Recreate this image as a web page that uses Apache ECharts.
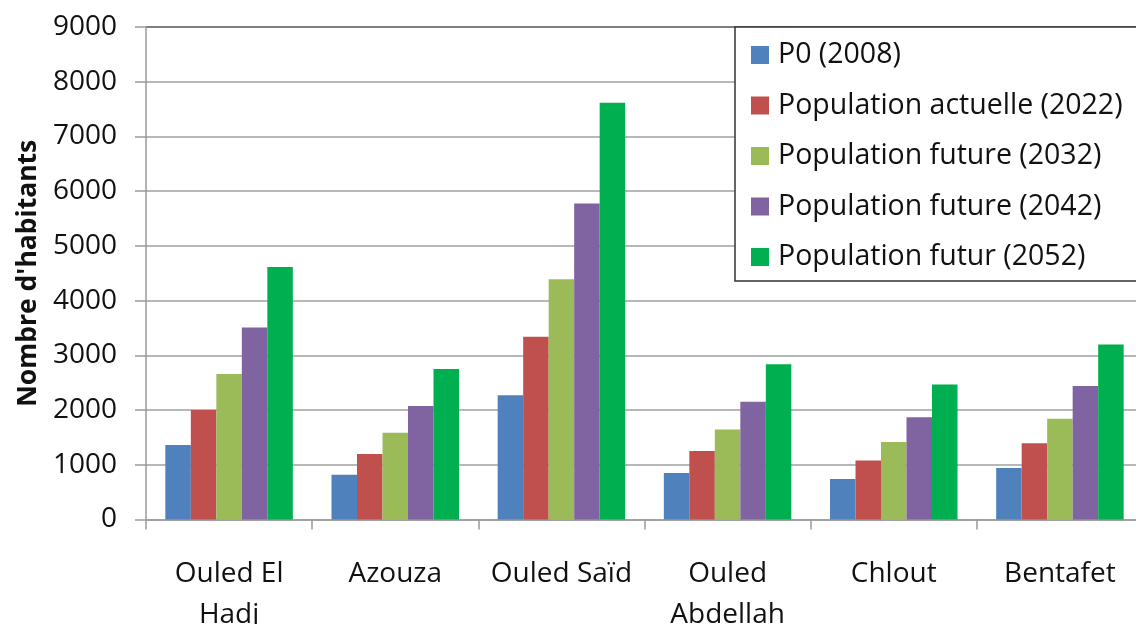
<!DOCTYPE html>
<html>
<head>
<meta charset="utf-8">
<script src="https://cdn.jsdelivr.net/npm/echarts@6/dist/echarts.min.js"></script>
<style>
  html, body { margin: 0; padding: 0; background: #fff; }
  #chart { width: 1136px; height: 624px; }
</style>
</head>
<body>
<div id="chart"></div>
<script>
// communes (retour à la ligne comme dans le graphique d'origine)
let communes = ['Ouled El\nHadj', 'Azouza', 'Ouled Saïd', 'Ouled\nAbdellah', 'Chlout', 'Bentafet']
let serieNames = ['P0 (2008)', 'Population actuelle (2022)', 'Population future (2032)', 'Population future (2042)', 'Population futur (2052)']
let p2008 = [1360, 820, 2270, 850, 740, 940]
let p2022 = [2000, 1195, 3340, 1250, 1080, 1395]
let p2032 = [2660, 1585, 4390, 1645, 1415, 1840]
let p2042 = [3510, 2075, 5775, 2150, 1870, 2440]
let p2052 = [4615, 2750, 7615, 2835, 2465, 3200]
let yTicks = [0, 1000, 2000, 3000, 4000, 5000, 6000, 7000, 8000, 9000]

let couleurs = ['#4F81BD', '#C0504D', '#9BBB59', '#8064A2', '#00B050']
let police = '"Open Sans", sans-serif'

let myChart = echarts.init(document.getElementById('chart'), null, { renderer: 'canvas' })

let valeurs = [p2008, p2022, p2032, p2042, p2052]
let series = valeurs.map((v, i) => ({
    name: serieNames[i],
    type: 'bar',
    data: v,
    barWidth: 25.5,
    barGap: '0%',
    itemStyle: { color: couleurs[i] },
}))

// lignes de grille grises, la ligne du haut plus foncée
let gridColors = yTicks.map((t, i) => (i === yTicks.length - 1 ? '#555' : '#a0a0a0'))

let option = {
    animation: false,
    backgroundColor: '#fff',
    grid: {
        left: 146,
        top: 27,
        width: 997,
        height: 492.5,
        containLabel: false,
        outerBoundsMode: 'none',
    },
    legend: {
        orient: 'vertical',
        left: 735,
        top: 27,
        padding: [12, 40, 8, 16],
        itemGap: 18.5,
        itemWidth: 18,
        itemHeight: 18,
        icon: 'rect',
        backgroundColor: '#fff',
        borderColor: '#333',
        borderWidth: 1.5,
        borderRadius: 0,
        data: serieNames,
        textStyle: {
            fontFamily: police,
            fontSize: 28.5,
            lineHeight: 32,
            color: '#111',
            padding: [0, 0, 0, 4],
        },
    },
    xAxis: {
        type: 'category',
        data: communes,
        axisLine: { lineStyle: { color: '#9a9a9a', width: 1.5 } },
        axisTick: { show: true, length: 10, lineStyle: { color: '#9a9a9a', width: 1.5 } },
        axisLabel: {
            margin: 34,
            fontFamily: police,
            fontSize: 28,
            lineHeight: 41,
            color: '#111',
            interval: 0,
        },
    },
    yAxis: {
        type: 'value',
        min: 0,
        max: 9000,
        interval: 1000,
        name: "Nombre d'habitants",
        nameLocation: 'middle',
        nameGap: 101,
        nameTextStyle: {
            fontFamily: police,
            fontSize: 26.5,
            fontWeight: 'bold',
            color: '#111',
        },
        axisLine: { show: true, lineStyle: { color: '#9a9a9a', width: 1.5 } },
        axisTick: { show: true, length: 11, lineStyle: { color: '#9a9a9a', width: 1.5 } },
        axisLabel: {
            margin: 29,
            fontFamily: police,
            fontSize: 28,
            color: '#111',
            formatter: v => String(v),
        },
        splitLine: { lineStyle: { color: gridColors, width: 1.5 } },
    },
    series: series,
}
myChart.setOption(option)
</script>
</body>
</html>
